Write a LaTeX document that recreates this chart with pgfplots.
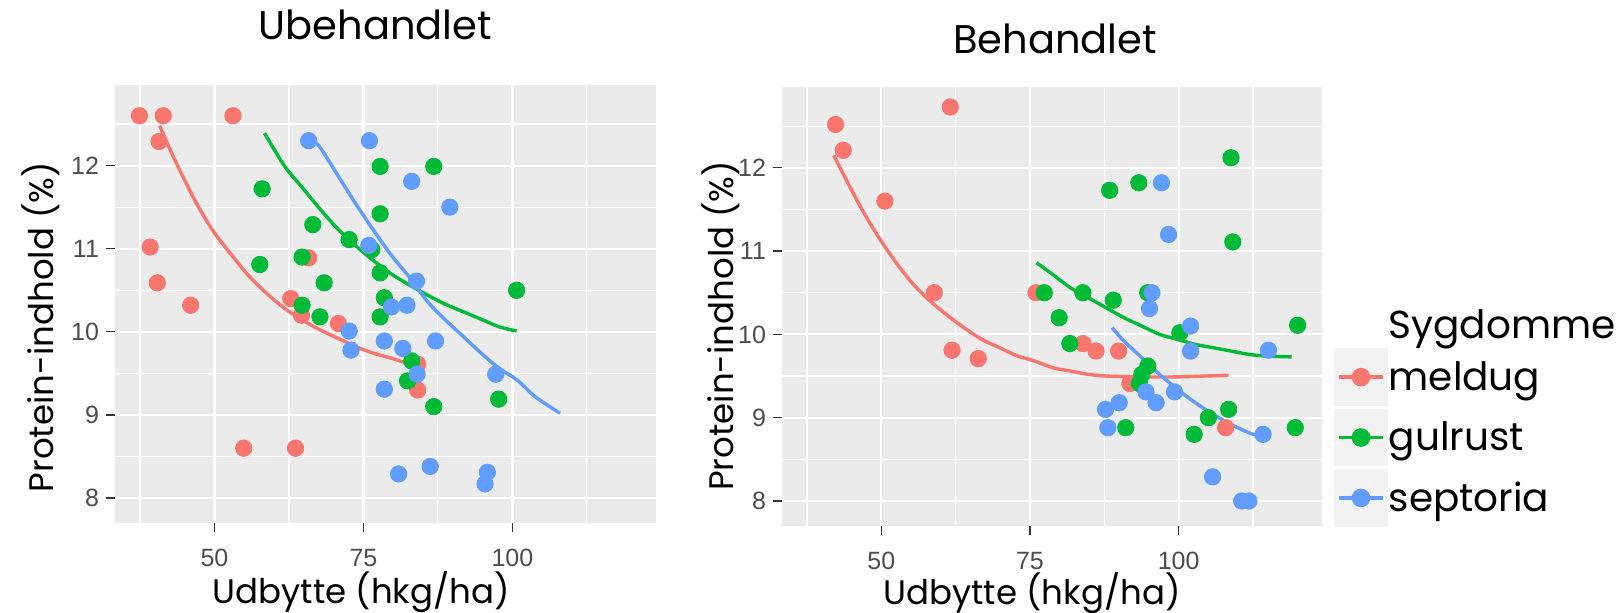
\documentclass[border=0pt]{standalone}
\usepackage{fontspec}
\setmainfont{Poppins}
\newfontfamily\tickfont{Liberation Sans}
\usepackage{pgfplots}
\pgfplotsset{compat=1.18}

\definecolor{ggred}{HTML}{F8766D}
\definecolor{gggreen}{HTML}{00BA38}
\definecolor{ggblue}{HTML}{619CFF}
\definecolor{ggbg}{HTML}{EBEBEB}
\definecolor{ggkey}{HTML}{F2F2F2}
\definecolor{ggtick}{HTML}{333333}
\definecolor{ggtext}{HTML}{4D4D4D}

\pgfplotsset{
  ggpanel/.style={
    scale only axis,
    xmin=33.3, xmax=124.1,
    ymin=7.7, ymax=12.97,
    xtick={50,75,100},
    minor xtick={37.5,62.5,87.5,112.5},
    ytick={8,9,10,11,12},
    minor ytick={8.5,9.5,10.5,11.5,12.5},
    grid=both,
    major grid style={white, line width=1.1pt},
    minor grid style={white, line width=0.55pt},
    axis background/.style={fill=ggbg},
    axis line style={draw=none},
    tick align=outside,
    xtick pos=left, ytick pos=left,
    major tick length=4.5pt,
    minor tick length=0pt,
    tick style={draw=ggtick, line width=0.6pt},
    /pgf/number format/assume math mode=true,
    ticklabel style={font=\tickfont\fontsize{12.5}{14}\selectfont, text=ggtext},
    xticklabel style={yshift=-5pt},
    title style={font=\fontsize{20}{24}\selectfont, anchor=center},
    label style={font=\fontsize{17}{20}\selectfont},
    xlabel={Udbytte (hkg/ha)},
    ylabel={Protein-indhold (\%)},
  },
  ggpts/.style={only marks, mark=*, mark size=4.1pt, forget plot},
  ggline/.style={line width=1.7pt, smooth, no marks},
}

\begin{document}
\begin{tikzpicture}
\useasboundingbox (0,0) rectangle (810.5pt,306.5pt);

% Ubehandlet
\begin{axis}[ggpanel,
  at={(57.5pt,45pt)}, anchor=south west,
  width=270.5pt, height=219pt,
  title={Ubehandlet},
  title style={at={(axis description cs:0.481,1.109)}},
  xlabel style={at={(axis description cs:0.455,-0.158)}, anchor=center},
  ylabel style={at={(axis description cs:-0.137,0.447)}, anchor=center},
]
\addplot[ggpts, color=ggred] table {
37.4 12.60
41.4 12.60
53.1 12.60
40.7 12.29
39.2 11.02
40.4 10.59
46.0 10.32
65.8 10.89
62.8 10.40
64.6 10.20
70.8 10.10
84.1 9.61
84.1 9.30
54.9 8.60
63.6 8.60
};
\addplot[ggpts, color=gggreen] table {
58.0 11.72
66.5 11.29
57.6 10.81
64.7 10.90
68.4 10.59
64.7 10.32
67.7 10.18
72.6 11.11
76.4 10.99
77.8 11.99
86.8 11.99
77.8 11.42
77.8 10.71
78.5 10.41
77.8 10.18
100.7 10.50
83.1 9.65
82.4 9.41
86.8 9.10
97.7 9.19
};
\addplot[ggpts, color=ggblue] table {
65.8 12.30
76.0 12.30
83.1 11.81
89.5 11.50
75.9 11.04
83.9 10.61
79.7 10.30
82.3 10.32
72.6 10.01
72.9 9.78
78.5 9.89
81.6 9.80
87.1 9.89
84.0 9.49
97.2 9.49
78.5 9.31
80.9 8.29
86.2 8.38
95.8 8.31
95.4 8.17
};
\addplot[ggline, color=ggred] table {
40.8 12.48
43.2 12.09
46.8 11.57
49.8 11.21
52.8 10.93
55.8 10.67
58.8 10.46
61.8 10.28
64.8 10.14
67.8 10.02
70.8 9.92
73.8 9.82
76.8 9.74
79.8 9.68
82.8 9.61
84.1 9.58
};
\addplot[ggline, color=gggreen] table {
58.4 12.39
61.8 11.99
64.8 11.73
67.8 11.47
70.8 11.23
73.8 11.03
76.8 10.85
79.8 10.69
82.8 10.56
85.8 10.44
88.8 10.33
91.8 10.24
94.8 10.15
97.8 10.06
100.7 10.01
};
\addplot[ggline, color=ggblue] table {
65.8 12.37
67.8 12.21
70.8 11.87
73.8 11.53
76.8 11.21
79.8 10.91
82.8 10.65
85.8 10.36
88.8 10.14
91.8 9.94
94.8 9.74
97.8 9.56
100.8 9.42
103.8 9.22
108.0 9.02
};
\end{axis}

% Behandlet
\begin{axis}[ggpanel,
  at={(391pt,43.5pt)}, anchor=south west,
  width=270pt, height=219.5pt,
  title={Behandlet},
  title style={at={(axis description cs:0.506,1.082)}},
  xlabel style={at={(axis description cs:0.463,-0.152)}, anchor=center},
  ylabel style={at={(axis description cs:-0.113,0.456)}, anchor=center},
  legend style={at={(axis description cs:1.022,0.503)}, anchor=north west,
    draw=none, fill=none, inner sep=0pt,
    font=\fontsize{19.5}{23}\selectfont, row sep=1.5pt,
    /tikz/every odd column/.append style={column sep=-1.5pt}},
  legend cell align=left,
  legend image code/.code={%
    \fill[ggkey] (0pt,-13.5pt) rectangle (25pt,13.5pt);
    \draw[#1] (1.5pt,0pt) -- (23.5pt,0pt);
    \fill[#1] (12.5pt,0pt) circle (3.8pt);},
]
\addlegendimage{empty legend}
\addlegendentry{Sygdomme}
\addplot[ggpts, color=ggred] table {
42.3 12.52
43.6 12.21
61.6 12.73
50.6 11.60
58.9 10.50
61.9 9.81
66.3 9.71
76.0 10.50
83.9 9.89
86.1 9.80
89.9 9.80
91.8 9.41
107.9 8.88
};
\addplot[ggpts, color=gggreen] table {
88.4 11.73
93.3 11.82
108.8 12.12
109.1 11.11
77.4 10.50
83.9 10.50
89.0 10.41
79.9 10.20
81.7 9.89
94.8 10.50
100.2 10.02
120.0 10.11
94.8 9.62
93.8 9.52
93.4 9.41
108.4 9.10
105.0 9.00
91.1 8.88
102.6 8.80
119.6 8.88
};
\addplot[ggpts, color=ggblue] table {
97.1 11.82
98.3 11.20
95.5 10.50
95.1 10.31
102.0 10.10
102.0 9.80
115.1 9.81
94.5 9.31
96.2 9.18
99.3 9.31
87.7 9.10
90.0 9.18
88.1 8.88
114.2 8.80
105.7 8.29
110.6 8.00
111.8 8.00
};
\addplot[ggline, color=ggred] table {
42.0 12.15
45.9 11.61
48.9 11.24
51.9 10.92
54.9 10.64
57.9 10.42
60.9 10.24
63.9 10.08
66.9 9.94
69.9 9.84
72.9 9.74
75.8 9.68
78.8 9.60
81.8 9.56
84.8 9.52
87.8 9.50
93.8 9.49
99.8 9.49
108.4 9.51
};
\addlegendentry{meldug}
\addplot[ggline, color=gggreen] table {
76.1 10.86
78.8 10.72
81.8 10.56
84.8 10.44
87.8 10.32
90.8 10.20
93.8 10.10
96.8 10.00
99.8 9.94
102.8 9.88
105.8 9.84
108.8 9.80
111.8 9.76
114.8 9.74
119.0 9.73
};
\addlegendentry{gulrust}
\addplot[ggline, color=ggblue] table {
88.8 10.08
90.8 9.92
93.8 9.72
96.8 9.52
99.8 9.34
102.8 9.18
105.8 9.04
108.8 8.92
111.8 8.82
113.6 8.78
};
\addlegendentry{septoria}
\end{axis}
\end{tikzpicture}
\end{document}
